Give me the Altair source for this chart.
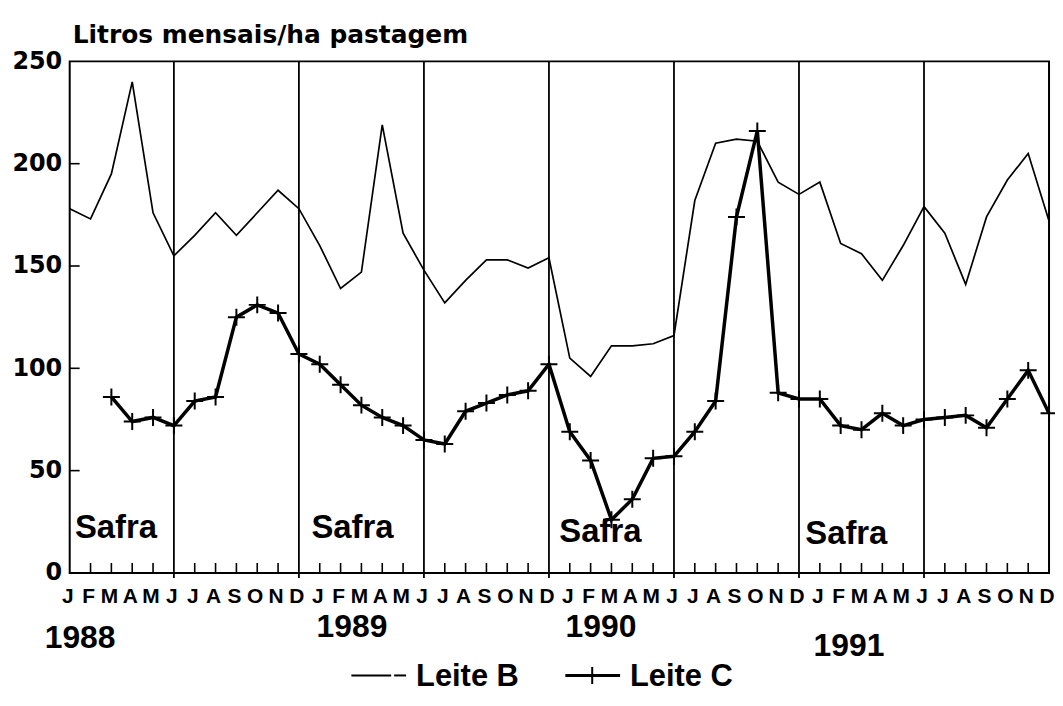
import altair as alt
import pandas as pd

# ---- data ----
months = ["J", "F", "M", "A", "M", "J", "J", "A", "S", "O", "N", "D"] * 4
years = ["1988", "1989", "1990", "1991"]
leite_b = [178, 173, 195, 240, 176, 155, 165, 176, 165, 176, 187, 178,
           160, 139, 147, 219, 166, 148, 132, 143, 153, 153, 149, 154,
           105, 96, 111, 111, 112, 116, 182, 210, 212, 211, 191, 185,
           191, 161, 156, 143, 160, 179, 166, 141, 174, 192, 205, 172]
leite_c = [None, None, 86, 74, 76, 72, 84, 86, 125, 131, 127, 107,
           102, 92, 82, 76, 72, 65, 63, 79, 83, 87, 89, 102,
           69, 55, 26, 36, 56, 57, 69, 84, 174, 216, 88, 85,
           85, 72, 70, 78, 72, 75, 76, 77, 71, 85, 99, 78]
y_labels = [0, 50, 100, 150, 200, 250]
y_ticks = [50, 100, 150, 200]
separators = [5, 11, 17, 23, 29, 35, 41]
safra_pos = [0.25, 11.6, 23.5, 35.3]
safra_val = [17, 17, 15, 14]
year_pos = [-1.2, 11.85, 23.8, 35.7]
year_ypx = [589, 578, 578, 597]
title_text = "Litros mensais/ha pastagem"

W, H = 984, 514
idx = list(range(48))
df = pd.DataFrame({"i": idx, "b": leite_b, "c": leite_c, "m": months})
dfc = df.dropna(subset=["c"])

xs = alt.Scale(domain=[0, 47], nice=False, zero=False)
ys = alt.Scale(domain=[0, 250], nice=False, zero=True)
yaxis = alt.Axis(values=y_labels, labelFont="DejaVu Sans", labelFontWeight="bold",
                 labelFontSize=24, labelColor="black", tickSize=0, domain=False,
                 grid=False, labelPadding=8, title=None)
X = lambda f: alt.X(f, type="quantitative", scale=xs, axis=None)
Y = lambda f: alt.Y(f, type="quantitative", scale=ys, axis=yaxis, title=None)
BOLD_A = dict(font="Liberation Sans", fontWeight="bold", color="black")

sep = alt.Chart(pd.DataFrame({"i": separators})).mark_rule(
    color="black", strokeWidth=1.8).encode(x=X("i"), y=alt.value(0), y2=alt.value(H + 5))

tick_idx = [k for k in range(1, 47) if k not in separators]
mticks = alt.Chart(pd.DataFrame({"i": tick_idx})).mark_rule(
    color="black", strokeWidth=1.6).encode(x=X("i"), y=alt.value(H), y2=alt.value(H - 10))

yt = alt.Chart(pd.DataFrame({"v": y_ticks})).mark_rule(
    color="black", strokeWidth=1.6).encode(y=Y("v"), x=alt.value(0), x2=alt.value(10))

line_b = alt.Chart(df).mark_line(color="black", strokeWidth=1.7).encode(x=X("i"), y=Y("b"))

line_c = alt.Chart(dfc).mark_line(color="black", strokeWidth=3.5).encode(x=X("i"), y=Y("c"))

plus = "M-1,0L1,0M0,-1L0,1"
pts_c = alt.Chart(dfc).mark_point(shape=plus, filled=False, size=290, strokeWidth=2,
                                  color="black", opacity=1).encode(x=X("i"), y=Y("c"))

mlab = alt.Chart(df).mark_text(fontSize=21, baseline="alphabetic", align="center", dx=-2,
                               **BOLD_A).encode(x=X("i"), y=alt.value(544), text="m:N")

ylab = alt.Chart(pd.DataFrame({"t": years, "p": year_pos, "py": year_ypx})).mark_text(
    fontSize=32, baseline="alphabetic", align="left", **BOLD_A).encode(
    x=X("p"), y=alt.Y("py:Q", scale=None), text="t:N")

safra = alt.Chart(pd.DataFrame({"t": ["Safra"] * 4, "p": safra_pos, "v": safra_val})).mark_text(
    fontSize=33, baseline="alphabetic", align="left", **BOLD_A).encode(
    x=X("p"), y=Y("v"), text="t:N")

title = alt.Chart(pd.DataFrame({"t": [title_text]})).mark_text(
    font="DejaVu Sans", fontWeight="bold", fontSize=25, color="black",
    align="left", baseline="alphabetic").encode(x=alt.value(3), y=alt.value(-18), text="t:N")

# legend (drawn by hand)
leg_y = 617
leg_b1 = alt.Chart(pd.DataFrame({"k": [0]})).mark_rule(color="black", strokeWidth=2).encode(
    x=alt.value(283), x2=alt.value(323), y=alt.value(leg_y))
leg_b2 = alt.Chart(pd.DataFrame({"k": [0]})).mark_rule(color="black", strokeWidth=2).encode(
    x=alt.value(326), x2=alt.value(338), y=alt.value(leg_y))
leg_c = alt.Chart(pd.DataFrame({"k": [0]})).mark_rule(color="black", strokeWidth=3).encode(
    x=alt.value(498), x2=alt.value(553), y=alt.value(leg_y))
leg_cp = alt.Chart(pd.DataFrame({"k": [0]})).mark_point(
    shape=plus, filled=False, size=290, strokeWidth=2, color="black", opacity=1).encode(
    x=alt.value(525), y=alt.value(leg_y))
leg_t = alt.Chart(pd.DataFrame({"t": ["Leite B", "Leite C"], "px": [348, 563]})).mark_text(
    fontSize=31, baseline="alphabetic", align="left", **BOLD_A).encode(
    x=alt.X("px:Q", scale=None), y=alt.value(leg_y + 11), text="t:N")

chart = alt.layer(sep, mticks, yt, line_b, line_c, pts_c, mlab, ylab, safra, title,
                  leg_b1, leg_b2, leg_c, leg_cp, leg_t).properties(
    width=W, height=H, autosize="none",
    padding={"left": 62, "top": 52, "right": 6, "bottom": 118},
    background="white",
).configure_view(stroke="black", strokeWidth=2)

chart.save("out.html", embed_options={"renderer": "svg", "actions": False})
